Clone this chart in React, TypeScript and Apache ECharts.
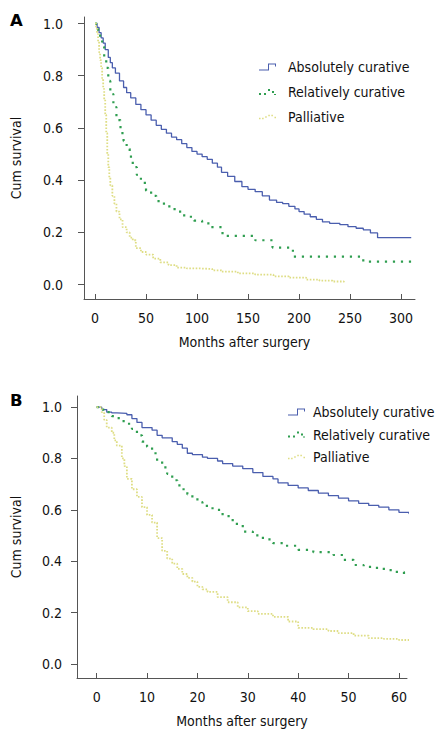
import React, { useEffect, useRef } from "react";
import * as echarts from "echarts";

// Panel A: months after surgery / cumulative survival
const monthsA_abs = [0, 2, 4, 6, 8, 10, 13, 15, 17, 20, 24, 28, 31, 35, 40, 45, 50, 55, 60, 65, 70, 75, 80, 85, 90, 95, 100, 105, 110, 115, 120, 124, 130, 137, 144, 150, 157, 164, 171, 178, 184, 190, 196, 200, 205, 211, 217, 223, 230, 240, 248, 256, 263, 270, 277, 310];
const survA_abs = [1.0, 0.985, 0.965, 0.945, 0.925, 0.9, 0.87, 0.85, 0.83, 0.81, 0.78, 0.755, 0.735, 0.715, 0.69, 0.67, 0.65, 0.63, 0.61, 0.595, 0.58, 0.565, 0.555, 0.54, 0.525, 0.51, 0.5, 0.49, 0.48, 0.465, 0.45, 0.43, 0.415, 0.395, 0.375, 0.365, 0.356, 0.34, 0.324, 0.315, 0.31, 0.3, 0.29, 0.28, 0.27, 0.26, 0.25, 0.24, 0.235, 0.23, 0.222, 0.216, 0.21, 0.198, 0.18, 0.18];

const monthsA_rel = [0, 3, 5, 7, 9, 11, 13, 15, 18, 21, 25, 28, 31, 34, 37, 41, 45, 50, 55, 60, 65, 70, 78, 85, 90, 97, 105, 113, 125, 157, 174, 194, 263, 310];
const survA_rel = [1.0, 0.96, 0.94, 0.91, 0.87, 0.83, 0.78, 0.73, 0.68, 0.63, 0.58, 0.55, 0.52, 0.49, 0.45, 0.42, 0.39, 0.36, 0.34, 0.32, 0.31, 0.3, 0.28, 0.265, 0.26, 0.245, 0.235, 0.22, 0.187, 0.17, 0.142, 0.107, 0.088, 0.088];

const monthsA_pal = [0, 1, 2, 3, 4, 5, 6, 7, 8, 9, 10, 11, 12, 13, 14, 15, 17, 19, 21, 24, 27, 31, 34, 37, 40, 45, 50, 57, 64, 72, 80, 90, 103, 115, 124, 140, 157, 175, 190, 207, 220, 233, 244];
const survA_pal = [1.0, 0.98, 0.96, 0.93, 0.89, 0.86, 0.83, 0.79, 0.75, 0.71, 0.65, 0.58, 0.5, 0.45, 0.41, 0.38, 0.34, 0.31, 0.28, 0.25, 0.22, 0.2, 0.18, 0.17, 0.14, 0.125, 0.115, 0.1, 0.085, 0.075, 0.065, 0.062, 0.06, 0.055, 0.05, 0.043, 0.038, 0.032, 0.027, 0.019, 0.015, 0.012, 0.007];

// Panel B: first 60 months
const monthsB_abs = [0, 1, 2, 3, 4, 6, 7, 8, 9, 11, 12, 13, 15, 16, 17, 18, 19, 21, 22, 24, 25, 27, 29, 31, 33, 35, 36, 38, 40, 42, 44, 46, 48, 50, 52, 54, 56, 58, 60, 62, 63.2];
const survB_abs = [1.0, 0.99, 0.98, 0.977, 0.975, 0.97, 0.955, 0.94, 0.92, 0.91, 0.89, 0.88, 0.865, 0.855, 0.84, 0.82, 0.815, 0.805, 0.8, 0.79, 0.78, 0.77, 0.76, 0.745, 0.73, 0.72, 0.705, 0.695, 0.685, 0.675, 0.665, 0.655, 0.645, 0.635, 0.625, 0.617, 0.61, 0.6, 0.59, 0.585, 0.584];

const monthsB_rel = [0, 1, 2, 3, 4, 5, 6, 7, 8, 9, 10, 11, 12, 13, 14, 15, 16, 17, 18, 19, 20, 21, 23, 25, 27, 29, 31, 33, 35, 37, 40, 43, 47, 49, 51, 53, 55, 57, 59, 61, 63.2];
const survB_rel = [1.0, 0.99, 0.98, 0.965, 0.957, 0.945, 0.935, 0.915, 0.89, 0.865, 0.845, 0.82, 0.79, 0.765, 0.74, 0.715, 0.695, 0.68, 0.66, 0.645, 0.63, 0.615, 0.6, 0.575, 0.545, 0.515, 0.5, 0.485, 0.47, 0.46, 0.444, 0.435, 0.424, 0.405, 0.385, 0.378, 0.374, 0.365, 0.358, 0.35, 0.335];

const monthsB_pal = [0, 1, 1.5, 2, 3, 3.5, 4, 5, 5.5, 6, 7, 8, 9, 10, 11, 12, 13, 14, 15, 16, 17, 18, 19, 20, 21, 22, 24, 26, 28, 30, 32, 35, 38, 40, 43, 46, 48, 51, 54, 57, 60, 62, 63.2];
const survB_pal = [1.0, 0.98, 0.95, 0.92, 0.9, 0.87, 0.85, 0.8, 0.77, 0.72, 0.68, 0.65, 0.61, 0.58, 0.55, 0.49, 0.44, 0.41, 0.39, 0.37, 0.35, 0.335, 0.32, 0.3, 0.29, 0.28, 0.26, 0.24, 0.22, 0.205, 0.195, 0.183, 0.165, 0.14, 0.135, 0.128, 0.12, 0.11, 0.1, 0.097, 0.093, 0.09, 0.085];

const seriesNames = ["Absolutely curative", "Relatively curative", "Palliative"];
const xTicksA = [0, 50, 100, 150, 200, 250, 300];
const xTicksB = [0, 10, 20, 30, 40, 50, 60];
const yTicks = [0, 0.2, 0.4, 0.6, 0.8, 1.0];

const FONT = "'DejaVu Sans Condensed', 'DejaVu Sans'";
const FS = 14;
const BLUE = "#4a5eae";
const GREEN = "#2f9e50";
const YELLOW = "#dedd84";

const ICON_STEP = "path://M0,6 L9,6 L9,0 L17,0 L17,3 L16,3 L16,1 L10,1 L10,7 L0,7 Z";
const ICON_GREEN = "path://M0,5h2v2h-2z M5,5h2v2h-2z M9,1h2v2h-2z M13,3h2v2h-2z M15,6h2v1h-2z";
const ICON_YELLOW = "path://M0,6h1.5v1.5h-1.5z M3,6h1.5v1.5h-1.5z M6,4.5h1.5v1.5h-1.5z M9,3h1.5v1.5h-1.5z M12,3h1.5v1.5h-1.5z M15,5h1.5v1.5h-1.5z";

const zip = (xs: number[], ys: number[]) => xs.map((x, i) => [x, ys[i]]);

export default function App() {
  const ref = useRef<HTMLDivElement>(null);
  useEffect(() => {
    if (!ref.current) return;
    const chart = echarts.init(ref.current, null, { renderer: "svg" });
    const axisCommon = {
      type: "value",
      splitLine: { show: false },
      nameMoveOverlap: false,
      axisLine: { show: true, onZero: false, lineStyle: { color: "#555", width: 1 } },
    };
    const xAxis = (gridIndex: number, min: number, max: number, ticks: number[], padRight: number) => ({
      ...axisCommon,
      gridIndex,
      min,
      max,
      name: "Months after surgery",
      nameLocation: "middle",
      nameGap: 36,
      nameTextStyle: { fontFamily: FONT, fontSize: FS, color: "#111", padding: [0, padRight, 0, 0] },
      axisTick: { show: true, inside: true, length: 5, customValues: ticks, lineStyle: { color: "#555" } },
      axisLabel: { customValues: ticks, margin: 12, fontFamily: FONT, fontSize: FS, color: "#111" },
    });
    const yAxis = (gridIndex: number, min: number, max: number, margin: number, nameGap: number) => ({
      ...axisCommon,
      gridIndex,
      min,
      max,
      name: "Cum survival",
      nameLocation: "middle",
      nameGap,
      nameTextStyle: { fontFamily: FONT, fontSize: FS, color: "#111" },
      axisTick: { show: true, inside: false, length: 6, customValues: yTicks, lineStyle: { color: "#555" } },
      axisLabel: {
        customValues: yTicks,
        margin,
        fontFamily: FONT,
        fontSize: FS,
        color: "#111",
        formatter: (v: number) => v.toFixed(1),
      },
    });
    const mk = (name: string, data: number[][], idx: number, clip: boolean) => {
      const style =
        name === seriesNames[0]
          ? { color: BLUE, width: 1.3, type: "solid" }
          : name === seriesNames[1]
          ? { color: GREEN, width: 2.2, type: [2.2, 5.8] }
          : { color: YELLOW, width: 1.8, type: [1.6, 1.6] };
      return {
        type: "line",
        name,
        xAxisIndex: idx,
        yAxisIndex: idx,
        data,
        step: "end",
        symbol: "none",
        clip,
        color: style.color,
        itemStyle: { color: style.color },
        lineStyle: style,
      };
    };
    const legend = (left: number, top: number, gap: number, pad: number) => ({
      orient: "vertical",
      left,
      top,
      padding: 0,
      itemWidth: 17,
      itemHeight: 7,
      itemGap: gap,
      selectedMode: false,
      itemStyle: { borderWidth: 0 },
      textStyle: { fontFamily: FONT, fontSize: FS, color: "#111", lineHeight: 14, padding: [0, 0, 0, pad] },
      data: [
        { name: seriesNames[0], icon: ICON_STEP },
        { name: seriesNames[1], icon: ICON_GREEN },
        { name: seriesNames[2], icon: ICON_YELLOW },
      ],
    });
    chart.setOption({
      animation: false,
      backgroundColor: "#fff",
      grid: [
        { left: 84, top: 17, width: 331, height: 282 },
        { left: 77, top: 396, width: 330, height: 282 },
      ],
      xAxis: [xAxis(0, -10.8, 313.7, xTicksA, 10), xAxis(1, -3.9, 61.6, xTicksB, 0)],
      yAxis: [yAxis(0, -0.055, 1.025, 21, 61), yAxis(1, -0.055, 1.043, 15, 54)],
      legend: [legend(259, 60, 11, 7), legend(288, 405, 8.5, 3)],
      graphic: [
        { type: "text", left: 10, top: 12, style: { text: "A", fontFamily: "DejaVu Sans", fontWeight: "bold", fontSize: 16.5, fill: "#000" } },
        { type: "text", left: 10, top: 392, style: { text: "B", fontFamily: "DejaVu Sans", fontWeight: "bold", fontSize: 16.5, fill: "#000" } },
      ],
      series: [
        mk(seriesNames[0], zip(monthsA_abs, survA_abs), 0, true),
        mk(seriesNames[1], zip(monthsA_rel, survA_rel), 0, true),
        mk(seriesNames[2], zip(monthsA_pal, survA_pal), 0, true),
        mk(seriesNames[0], zip(monthsB_abs, survB_abs), 1, false),
        mk(seriesNames[1], zip(monthsB_rel, survB_rel), 1, false),
        mk(seriesNames[2], zip(monthsB_pal, survB_pal), 1, false),
      ],
    });
    return () => chart.dispose();
  }, []);
  return (
    <div
      ref={ref}
      style={{ position: "absolute", left: 0, top: 0, width: 442, height: 737, background: "#fff" }}
    />
  );
}
